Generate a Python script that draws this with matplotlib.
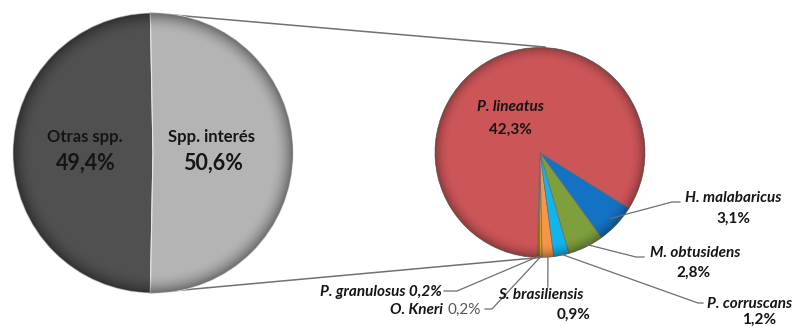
import numpy as np
import matplotlib
matplotlib.use("Agg")
import matplotlib.pyplot as plt
from matplotlib.patches import Circle

plt.rcParams['font.family'] = ['Lato', 'DejaVu Sans']

# ---- data ----
main_labels = ['Otras spp.', 'Spp. interés']
main_values = [49.4, 50.6]
main_colors = ['#505050', '#b4b4b4']

sub_labels = ['P. granulosus', 'O. Kneri', 'S. brasiliensis', 'P. corruscans',
              'M. obtusidens', 'H. malabaricus', 'P. lineatus']
sub_values = [0.2, 0.2, 0.9, 1.2, 2.8, 3.1, 42.3]
sub_colors = ['#8a6a1c', '#e0a030', '#f79646', '#12b4ee',
              '#7e9f3c', '#1372c4', '#cc5558']

W, H = 801, 326


def pct(v):
    return f"{v:.1f}".replace('.', ',') + '%'


def Y(y):
    # convert a top-down pixel row to axis coordinates
    return H - y


fig = plt.figure(figsize=(W / 100, H / 100), dpi=100)
ax = fig.add_axes([0, 0, 1, 1])
ax.set_xlim(0, W)
ax.set_ylim(0, H)
ax.set_aspect('equal')
ax.axis('off')

# geometry of the two pies
c1, r1 = (153, Y(153)), 140
c2, r2 = (540, Y(152.5)), 105


def rim_shade(cx, cy, r, strength=0.35):
    n = 300
    g = np.linspace(-1, 1, n)
    xx, yy = np.meshgrid(g, g)
    d = np.sqrt(xx ** 2 + yy ** 2)
    a = np.clip((d - 0.86) / 0.14, 0, 1) ** 2 * strength
    img = np.zeros((n, n, 4))
    img[..., 3] = a
    im = ax.imshow(img, extent=[cx - r, cx + r, cy - r, cy + r],
                   origin='lower', zorder=3, interpolation='bilinear')
    im.set_clip_path(Circle((cx, cy), r, transform=ax.transData))


# main pie: the "other" slice is centred on the left side
other_span = main_values[0] / sum(main_values) * 360
w1, _ = ax.pie(main_values, colors=main_colors, startangle=180 - other_span / 2,
               counterclock=True, center=c1, radius=r1, frame=True,
               wedgeprops=dict(edgecolor='#e6e6e6', linewidth=0.8, zorder=2))
rim_shade(*c1, r1, 0.4)

# sub pie: the small species are grouped at the lower right
small_share = sum(sub_values[:-1]) / sum(sub_values) * 360
start2 = -32 - small_share
w2, _ = ax.pie(sub_values, colors=sub_colors, startangle=start2, counterclock=True,
               center=c2, radius=r2, frame=True,
               wedgeprops=dict(edgecolor='#6a6a6a', linewidth=0.5, zorder=2))
rim_shade(*c2, r2, 0.3)
ax.set_xlim(0, W)
ax.set_ylim(0, H)
ax.axis('off')

# connector lines between the pies
t_up = np.deg2rad(w1[0].theta1)
top1 = (c1[0] + r1 * np.cos(t_up), c1[1] + r1 * np.sin(t_up))
t_low = np.deg2rad(w1[0].theta2)
bot1 = (c1[0] + r1 * np.cos(t_low), c1[1] + r1 * np.sin(t_low))
ax.plot([top1[0], c2[0] + 5], [top1[1], c2[1] + r2 + 0.5], color='#707070', lw=1.1, zorder=1)
ax.plot([bot1[0], c2[0]], [bot1[1], c2[1] - r2], color='#707070', lw=1.1, zorder=1)

big = dict(fontweight='bold', color='#151515', zorder=5, ha='center', va='center')

# labels of the main pie
ax.text(85, Y(137), main_labels[0], fontsize=12, **big)
ax.text(86, Y(163), pct(main_values[0]), fontsize=15.5, **big)
ax.text(211, Y(137), main_labels[1], fontsize=12, **big)
ax.text(213, Y(163), pct(main_values[1]), fontsize=15.5, **big)

lab = dict(fontsize=11, fontweight='bold', color='#151515', zorder=5)

# P. lineatus label inside its wedge
ax.text(510, Y(107), sub_labels[6], ha='center', va='center', style='italic', **lab)
ax.text(510, Y(130), pct(sub_values[6]), ha='center', va='center', **lab)


def anchor(i, frac=0.97):
    w = w2[i]
    t = np.deg2rad((w.theta1 + w.theta2) / 2)
    return c2[0] + r2 * frac * np.cos(t), c2[1] + r2 * frac * np.sin(t)


def leader(i, pts, frac=0.97):
    x0, y0 = anchor(i, frac)
    xs = [x0] + [p[0] for p in pts]
    ys = [y0] + [Y(p[1]) for p in pts]
    ax.plot(xs, ys, color='#6e6e6e', lw=0.9, zorder=4)


# H. malabaricus
leader(5, [(672, 202), (680, 202)], 0.92)
ax.text(733, Y(198), sub_labels[5], ha='center', va='center', style='italic', **lab)
ax.text(733, Y(219), pct(sub_values[5]), ha='center', va='center', **lab)

# M. obtusidens
leader(4, [(636, 257), (644, 257)], 0.97)
ax.text(695, Y(253), sub_labels[4], ha='center', va='center', style='italic', **lab)
ax.text(693, Y(273), pct(sub_values[4]), ha='center', va='center', **lab)

# P. corruscans
leader(3, [(698, 303), (703, 303)], 0.99)
ax.text(750, Y(304), sub_labels[3], ha='center', va='center', style='italic', **lab)
ax.text(759, Y(320), pct(sub_values[3]), ha='center', va='center', **lab)

# S. brasiliensis
leader(2, [(anchor(2)[0], 287)], 0.99)
ax.text(541, Y(295), sub_labels[2], ha='center', va='center', style='italic', **lab)
ax.text(574, Y(315), pct(sub_values[2]), ha='center', va='center', **lab)

# O. Kneri (percentage in regular weight)
leader(1, [(492, 309), (485, 309)], 0.99)
ax.text(443, Y(310), sub_labels[1], ha='right', va='center', style='italic', **lab)
ax.text(447, Y(310), pct(sub_values[1]), ha='left', va='center', fontsize=11,
        color='#555555', zorder=5)

# P. granulosus
leader(0, [(457, 291), (444, 291)], 0.99)
ax.text(442, Y(292), sub_labels[0] + ' ' + pct(sub_values[0]), ha='right', va='center',
        style='italic', **lab)

fig.savefig('out.png', dpi=100)
